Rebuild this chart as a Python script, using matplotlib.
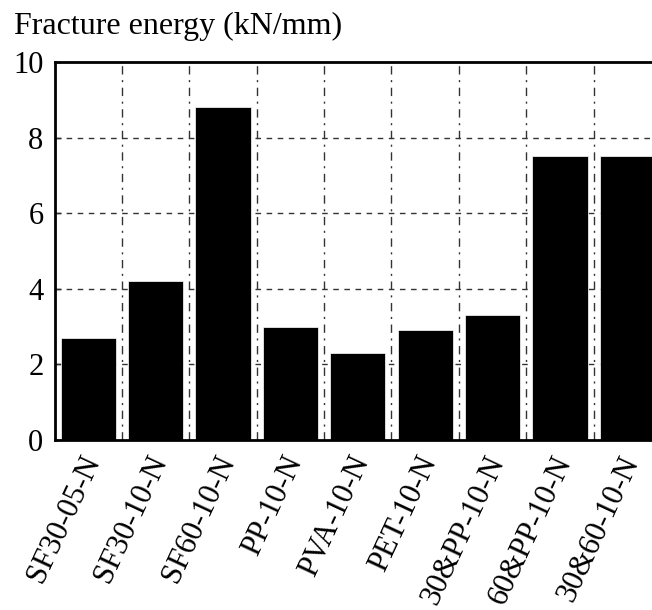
import matplotlib
matplotlib.use("Agg")
import matplotlib.pyplot as plt
import matplotlib.transforms as mtransforms
import numpy as np

categories = ["SF30-05-N", "SF30-10-N", "SF60-10-N", "PP-10-N", "PVA-10-N",
              "PET-10-N", "30&PP-10-N", "60&PP-10-N", "30&60-10-N"]
values = [2.7, 4.2, 8.8, 3.0, 2.3, 2.9, 3.3, 7.5, 7.5]
yticks = [0, 2, 4, 6, 8, 10]

plt.rcParams['font.family'] = ['Liberation Serif', 'DejaVu Serif']

fig = plt.figure(figsize=(6.52, 6.10), dpi=100)
W, H = 652, 610
left, right, bottom, top = 54.5, 661, 440, 62
ax = fig.add_axes([left / W, (H - bottom) / H, (right - left) / W, (bottom - top) / H])

x = np.arange(len(categories))
ax.set_axisbelow(True)
ax.bar(x, values, width=0.82, color='black', edgecolor='white', linewidth=0.5, zorder=2)

ax.set_xlim(-0.5, len(categories) - 0.5)
ax.set_ylim(0, 10)
ax.set_yticks(yticks)
ax.set_yticklabels([str(t) for t in yticks], fontsize=22)
ax.tick_params(axis='y', direction='in', length=4, width=1, pad=8)

# horizontal grid
for t in yticks[1:-1]:
    ax.axhline(t, color='#333333', linestyle=(0, (4, 4)), linewidth=1, zorder=1)
# vertical grid at category boundaries
for b in np.arange(0.5, len(categories) - 0.5, 1.0):
    ax.axvline(b, color='#333333', linestyle=(0, (6, 4, 1.5, 4)), linewidth=1, zorder=1)

ax.set_xticks(x)
ax.tick_params(axis='x', length=0, pad=8)
offset = mtransforms.ScaledTranslation(18 / 100, 0, fig.dpi_scale_trans)
ax.set_xticklabels(categories, rotation=65, ha='right', fontsize=22)
for lab in ax.get_xticklabels():
    lab.set_transform(lab.get_transform() + offset)

for s in ['left', 'bottom', 'top', 'right']:
    ax.spines[s].set_linewidth(2)

fig.text(14 / W, 1 - 26 / H, "Fracture energy (kN/mm)", fontsize=23, va='center', ha='left')

fig.savefig("out.png", dpi=100)
